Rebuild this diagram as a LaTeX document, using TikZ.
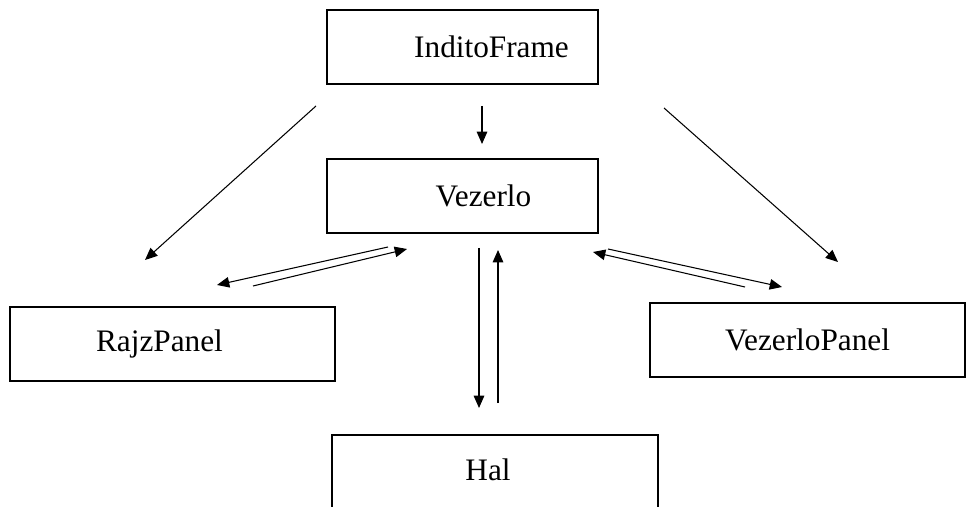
\documentclass[tikz,border=0pt]{standalone}
\usepackage{fontspec}
\setmainfont{Liberation Serif}
\usetikzlibrary{arrows.meta}

\begin{document}
\begin{tikzpicture}[
  box/.style={draw, line width=0.9pt, minimum height=1.48cm},
  txt/.style={font=\fontsize{17.8}{20}\selectfont},
  arr/.style={-{Triangle[length=7pt, width=6pt]}, line width=0.6pt}
]
\useasboundingbox (0,0) rectangle (19.32,-10.14);
\begin{scope}
\clip (0,0) rectangle (19.32,-10.14);
\node[box, minimum width=5.42cm] (frame)  at (9.25,-0.94)  {};
\node[box, minimum width=5.42cm] (vez)    at (9.25,-3.92)  {};
\node[box, minimum width=6.5cm]  (rajz)   at (3.45,-6.88)  {};
\node[box, minimum width=6.3cm]  (vpanel) at (16.15,-6.8)  {};
\node[box, minimum width=6.52cm] (hal)    at (9.9,-9.44)   {};
\end{scope}

% labels sit a bit off centre
\node[txt] (frametxt)  at ([xshift=0.58cm]frame.center)   {InditoFrame};
\node[txt] (veztxt)    at ([xshift=0.42cm]vez.center)     {Vezerlo};
\node[txt] (rajztxt)   at ([xshift=-0.26cm]rajz.center)   {RajzPanel};
\node[txt] (vpaneltxt) at (vpanel.center)                 {VezerloPanel};
\node[txt] (haltxt)    at ([xshift=-0.14cm,yshift=0.04cm]hal.center) {Hal};

% free standing arrow ends
\coordinate (fr1) at (6.32,-2.12);  \coordinate (ra1) at (2.90,-5.20);
\coordinate (fr2) at (9.64,-2.12);  \coordinate (ve1) at (9.64,-2.88);
\coordinate (fr3) at (13.28,-2.16); \coordinate (vp1) at (16.76,-5.24);
\coordinate (ve2) at (7.76,-4.94);  \coordinate (ra2) at (4.34,-5.70);
\coordinate (ra3) at (5.06,-5.72);  \coordinate (ve3) at (8.14,-4.98);
\coordinate (vp2) at (14.90,-5.74); \coordinate (ve4) at (11.86,-5.04);
\coordinate (ve5) at (12.16,-4.98); \coordinate (vp3) at (15.64,-5.74);
\coordinate (ve6) at (9.58,-4.96);  \coordinate (ha1) at (9.58,-8.16);
\coordinate (ha2) at (9.96,-8.06);  \coordinate (ve7) at (9.96,-5.00);

\draw[arr] (fr1) -- (ra1);
\draw[arr] (fr2) -- (ve1);
\draw[arr] (fr3) -- (vp1);
\draw[arr] (ve2) -- (ra2);
\draw[arr] (ra3) -- (ve3);
\draw[arr] (vp2) -- (ve4);
\draw[arr] (ve5) -- (vp3);
\draw[arr] (ve6) -- (ha1);
\draw[arr] (ha2) -- (ve7);
\end{tikzpicture}
\end{document}
